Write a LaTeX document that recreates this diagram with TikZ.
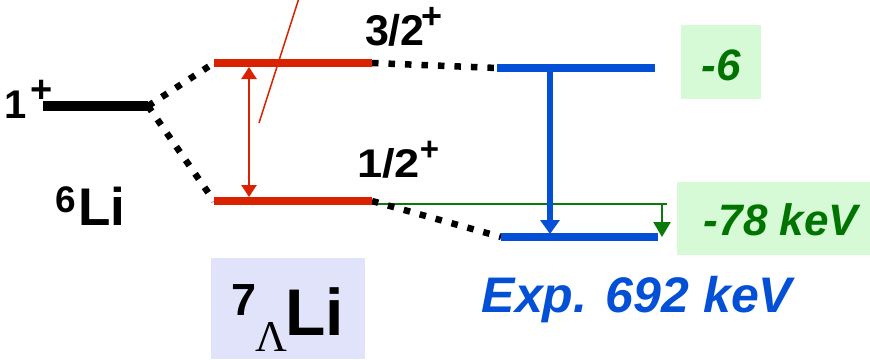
\documentclass[tikz,border=0pt]{standalone}
\usepackage{fontspec}
\setmainfont{Liberation Sans}
\newfontfamily\serifLam{Liberation Serif}
\usetikzlibrary{arrows.meta}
\definecolor{lvred}{HTML}{DA2200}
\definecolor{lvblue}{HTML}{0350D6}
\definecolor{lvgreen}{HTML}{0A7A0A}
\definecolor{txgreen}{HTML}{007300}
\definecolor{boxgreen}{HTML}{D5FAD5}
\definecolor{boxlav}{HTML}{E1E3FB}
\newcommand{\fsz}[1]{\fontsize{#1}{#1}\selectfont}
\tikzset{
  lbl/.style={inner sep=0pt, outer sep=0pt, font=\bfseries},
  levelbar/.style={line width=#1, line cap=butt},
  dotline/.style={line width=6.5pt, dash pattern=on 6.5pt off 10pt, line cap=butt, black},
}
\begin{document}
\begin{tikzpicture}[x=1pt,y=-1pt]
\useasboundingbox (0,0) rectangle (870,359);
% boxes
\fill[boxgreen] (681,25) rectangle (761,99);
\fill[boxgreen] (677,182) rectangle (870,255);
\fill[boxlav] (211,258) rectangle (365,359);
% coordinates of level ends
\coordinate (c6L) at (43,106);
\coordinate (c6R) at (148,106);
\coordinate (rTL) at (214,63);
\coordinate (rTR) at (372,63);
\coordinate (rBL) at (214,201);
\coordinate (rBR) at (372,201);
\coordinate (bTL) at (497,68);
\coordinate (bTR) at (655,68);
\coordinate (bBL) at (501,237);
\coordinate (bBR) at (658,237);
% green reference line and arrow
\coordinate (gL) at (372,204);
\coordinate (gR) at (667,204);
\coordinate (gA1) at (662,204);
\coordinate (gA2) at (662,237);
\draw[lvgreen, line width=2pt] (gL) -- (gR);
\draw[lvgreen, line width=2.5pt, -{Triangle[width=17pt,length=15pt]}] (gA1) -- (gA2);
% dotted connectors
\draw[dotline] (c6R) -- (rTL);
\draw[dotline] (c6R) -- (rBL);
\draw[dotline] (rTR) -- (bTL);
\draw[dotline] (rBR) -- (bBL);
% levels
\draw[levelbar=10pt, black] (c6L) -- (c6R);
\draw[levelbar=8pt, lvred] (rTL) -- (rTR);
\draw[levelbar=8pt, lvred] (rBL) -- (rBR);
\draw[levelbar=8pt, lvblue] (bTL) -- (bTR);
\draw[levelbar=8pt, lvblue] (bBL) -- (bBR);
% red double arrow and thin line
\coordinate (rA1) at (249,67);
\coordinate (rA2) at (249,197);
\draw[lvred, line width=2.5pt, {Triangle[width=15pt,length=12pt]}-{Triangle[width=15pt,length=12pt]}] (rA1) -- (rA2);
\coordinate (rl1) at (259,123);
\coordinate (rl2) at (299,-2);
\draw[lvred, line width=1.5pt] (rl1) -- (rl2);
% blue arrow
\coordinate (bA1) at (550,72);
\coordinate (bA2) at (550,234);
\draw[lvblue, line width=6pt, -{Triangle[width=19pt,length=14pt]}] (bA1) -- (bA2);
% labels
\node[lbl, anchor=base west, font=\bfseries\fsz{40}] (one) at (5,118) {1};
\node[lbl, anchor=center, font=\bfseries\fsz{38}] (onep) at (41.5,91) {+};
\node[lbl, anchor=base west, font=\bfseries\fsz{43}] (tt) at (365,45) {3/2};
\node[lbl, anchor=center, font=\bfseries\fsz{36}] (ttp) at (432.5,17.5) {+};
\node[lbl, anchor=base west, font=\bfseries\fsz{40}] (ot) at (357,177) {\scalebox{1.13}[1]{1/2}};
\node[lbl, anchor=center, font=\bfseries\fsz{33}] (otp) at (429.5,150.5) {+};
\node[lbl, anchor=base west, font=\bfseries\fsz{37}] (six) at (55,212) {6};
\node[lbl, anchor=base west, font=\bfseries\fsz{53}] (li6) at (78,225) {Li};
\node[lbl, anchor=base west, font=\bfseries\fsz{45}] (seven) at (231,315) {7};
\node[lbl, anchor=base west, font=\serifLam\fsz{44}] (lam) at (255,351) {Λ};
\node[lbl, anchor=base west, font=\bfseries\fsz{66}] (li7) at (285,335) {Li};
\node[lbl, anchor=base, text=txgreen, font=\bfseries\itshape\fsz{44}] (m6) at (721.5,80) {-6};
\node[lbl, anchor=base, text=txgreen, font=\bfseries\itshape\fsz{44}] (m78) at (781,235) {-78 keV};
\node[lbl, anchor=base, text=lvblue, font=\bfseries\itshape\fsz{50}] (exp) at (637,312) {Exp. 692 keV};
\end{tikzpicture}
\end{document}
